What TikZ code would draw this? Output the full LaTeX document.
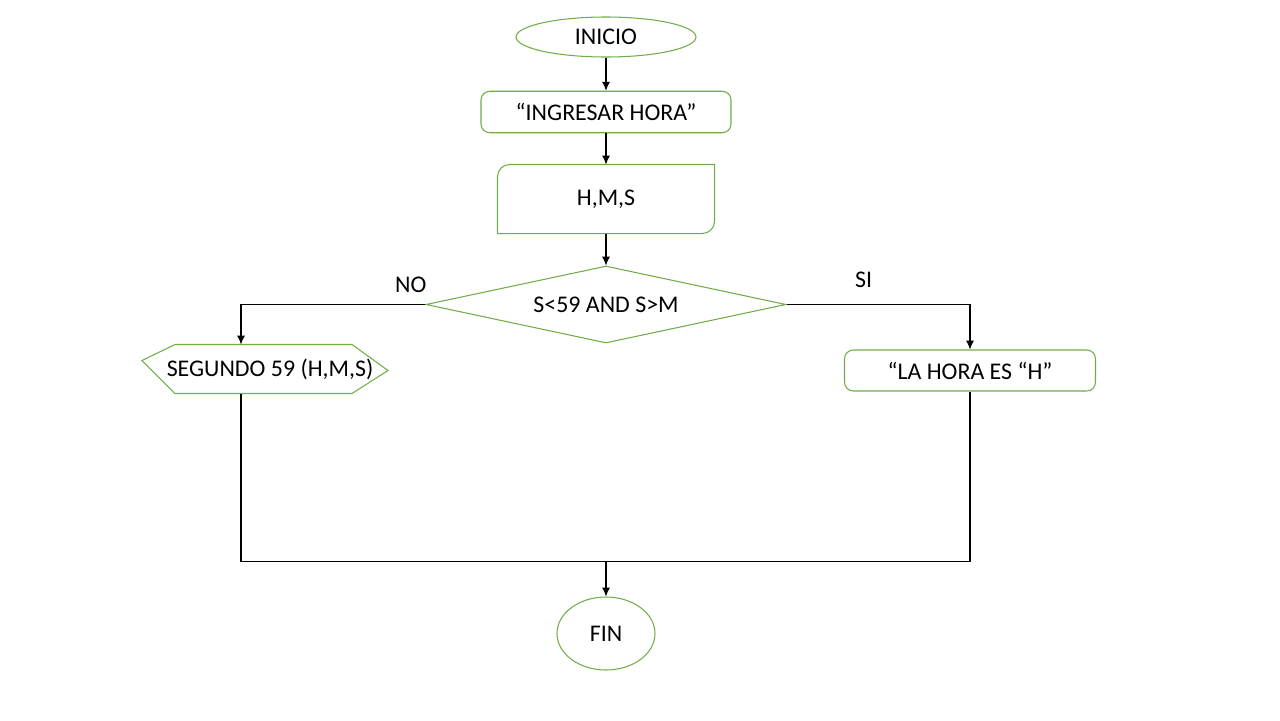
\documentclass[tikz,border=0pt]{standalone}
\usepackage{fontspec}
\setmainfont{Carlito}
\usetikzlibrary{arrows.meta}
\usetikzlibrary{shapes.geometric,positioning,calc}
\definecolor{boxgreen}{RGB}{112,173,71}

\begin{document}
\begin{tikzpicture}[node distance=1.5cm,on grid,auto,line width=0.6pt,
        font=\fontsize{13.6}{16}\selectfont,
        >={Latex[length=5pt,width=4.5pt]},
        outline/.style={draw=boxgreen},
        term/.style={ellipse,outline,inner sep=0pt},
        io/.style={rectangle,rounded corners=5pt,outline,inner sep=0pt,minimum height=0.83cm},
        cond/.style={diamond,aspect=4.7,outline,inner sep=0pt}]
    \useasboundingbox (0,0) rectangle (25.6,-14.4);
    \node[term,minimum width=3.6cm,minimum height=0.8cm] (inicio) at (12.12,-0.74) {INICIO};
    \node[io,minimum width=5cm] [below=of inicio] (ingresar) {“INGRESAR HORA”};
    \node[minimum width=4.32cm,minimum height=1.36cm,inner sep=0pt] [below=1.74cm of ingresar] (hms) {H,M,S};
    \node[cond,minimum width=7.2cm,minimum height=1.54cm] [below=2.11cm of hms] (dec) {S<59 AND S>M};
    \node[inner sep=0pt] [below left=1.3cm and 6.72cm of dec] (seg) {SEGUNDO 59 (H,M,S)};
    \node[io,minimum width=5.02cm,minimum height=0.82cm] [below right=1.32cm and 7.28cm of dec] (lahora) {“LA HORA ES “H”};
    \node[term,minimum width=1.96cm,minimum height=1.46cm] [below=6.58cm of dec] (fin) {FIN};
    % outlines of the input and the display shape
    \draw[outline] (hms.south west) -- ([yshift=-7pt]hms.north west)
        arc[start angle=180,end angle=90,radius=7pt] -- (hms.north east)
        -- ([yshift=7pt]hms.south east) arc[start angle=0,end angle=-90,radius=7pt] -- cycle;
    \draw[outline] ($(seg)+(-1.9,0.5)$) -- ($(seg)+(1.64,0.5)$) -- ($(seg)+(2.36,-0.02)$)
        -- ($(seg)+(1.64,-0.48)$) -- ($(seg)+(-1.9,-0.48)$) -- ($(seg)+(-2.56,0.18)$) -- cycle;
    \coordinate (segin) at ($(seg)+(-0.58,0.5)$);
    \coordinate (segout) at ($(seg)+(-0.58,-0.48)$);
    \coordinate[above=1.44cm of fin] (merge);
    \draw[->] (inicio) -- (ingresar);
    \draw[->] (ingresar) -- (hms);
    \draw[->] (hms) -- (dec);
    \draw[->] (dec.west) -| node[pos=0.04,above=3pt] {NO} (segin);
    \draw[->] (dec.east) -| node[pos=0.21,above=6pt] {SI} (lahora.north);
    \draw (segout) |- (merge);
    \draw (lahora.south) |- (merge);
    \draw[->] (merge) -- (fin);
\end{tikzpicture}
\end{document}
